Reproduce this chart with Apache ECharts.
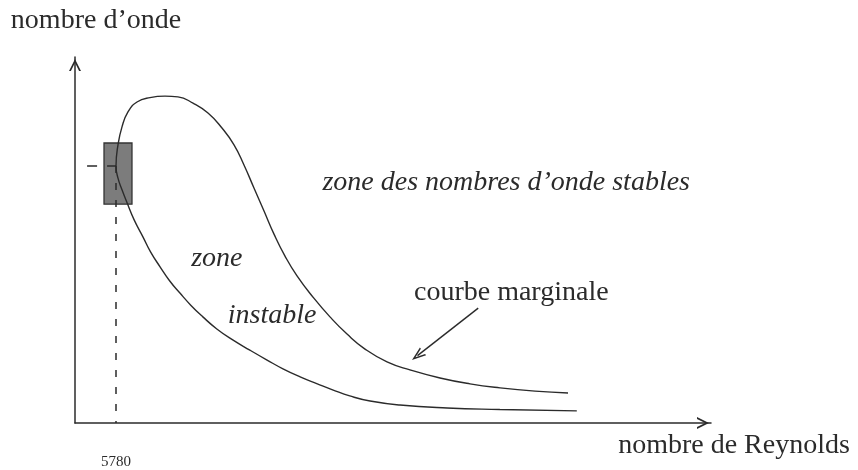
<!DOCTYPE html>
<html>
<head>
<meta charset="utf-8">
<script src="https://cdn.jsdelivr.net/npm/echarts@6/dist/echarts.min.js"></script>
<style>
  html, body { margin: 0; padding: 0; background: #ffffff; }
  #chart { width: 858px; height: 470px; }
</style>
</head>
<body>
<div id="chart"></div>
<script>
// Marginal stability curve (neutral curve) in the (Reynolds number, wavenumber) plane.
// Both axes use a schematic 0-100 scale; only the critical Reynolds number is labelled.

// Upper branch of the neutral curve, from the nose outwards
const upperBranchRe = [6.45, 6.76, 7.39, 8.33, 9.75, 11.79, 14.15, 16.19, 18.55, 20.91, 23.11, 25.0, 26.57,
  28.14, 29.72, 31.29, 33.02, 34.91, 37.42, 40.09, 42.77, 45.6, 49.06, 52.67, 57.39, 62.11, 66.82, 72.33, 77.52];
const upperBranchK = [70.2, 76.0, 80.9, 85.0, 87.7, 88.9, 89.3, 89.1, 87.4, 84.7, 80.6, 76.0, 70.5,
  64.2, 57.9, 51.6, 45.6, 40.2, 34.4, 29.0, 24.3, 20.2, 16.7, 14.5, 12.3, 10.7, 9.6, 8.7, 8.2];

// Lower branch of the neutral curve, from the nose outwards
const lowerBranchRe = [6.45, 6.76, 7.39, 8.2, 9.3, 10.7, 11.9, 13.4, 14.9, 16.5, 18.2, 20.1, 22.3, 24.8,
  27.5, 30.2, 32.7, 35.4, 38.1, 40.6, 43.2, 46.4, 51.1, 58.5, 66.8, 78.9];
const lowerBranchK = [70.2, 66.9, 63.7, 60.1, 55.5, 50.8, 46.7, 42.6, 38.8, 35.5, 32.2, 29.0, 25.7, 22.7,
  19.9, 17.2, 14.8, 12.6, 10.7, 9.0, 7.4, 6.0, 4.9, 4.1, 3.7, 3.3];

// Critical point (nose of the curve) and its Reynolds tick label
const criticalRe = 6.45;
const criticalK = 70.2;
const reynoldsTickLabels = ['5780'];

// Region names written inside the plane
const regionLabels = ['zone des nombres d\u2019onde stables', 'zone', 'instable', 'courbe marginale'];

// ---- build the curve path: upper branch (outer end -> nose) then lower branch (nose -> outer end)
const curve = [];
for (let i = upperBranchRe.length - 1; i >= 0; i--) curve.push([upperBranchRe[i], upperBranchK[i]]);
for (let i = 1; i < lowerBranchRe.length; i++) curve.push([lowerBranchRe[i], lowerBranchK[i]]);

const ink = '#2b2b2b';
const serif = '"Liberation Serif", "DejaVu Serif", serif';
// open arrowhead (chevron) pointing up; ECharts rotates it along the line
const chevron = 'path://M0,100 L50,0 L100,100 L84,100 L50,32 L16,100 Z';

const chart = echarts.init(document.getElementById('chart'), null, { renderer: 'canvas' });

chart.setOption({
  animation: false,
  backgroundColor: '#ffffff',
  grid: { left: 75, right: 147, top: 57, bottom: 47, containLabel: false },
  xAxis: {
    type: 'value', min: 0, max: 100,
    name: 'nombre de Reynolds',
    nameLocation: 'end',
    nameGap: 23,
    nameTextStyle: {
      fontFamily: serif, fontSize: 28, color: ink,
      align: 'center', verticalAlign: 'top', padding: [9, 0, 0, 0]
    },
    axisLine: {
      show: true,
      symbol: ['none', chevron],
      symbolSize: [12, 18],
      symbolOffset: [0, -8],
      lineStyle: { color: ink, width: 1.5 }
    },
    axisTick: { show: false },
    splitLine: { show: false },
    axisLabel: {
      show: true,
      customValues: [criticalRe],
      formatter: () => reynoldsTickLabels[0],
      margin: 32,
      fontFamily: serif, fontSize: 15, color: ink
    }
  },
  yAxis: {
    type: 'value', min: 0, max: 100,
    name: 'nombre d\u2019onde',
    nameLocation: 'end',
    nameGap: 22,
    nameTextStyle: {
      fontFamily: serif, fontSize: 28, color: ink,
      align: 'center', padding: [0, 0, 0, 42]
    },
    axisLine: {
      show: true,
      symbol: ['none', chevron],
      symbolSize: [12, 18],
      symbolOffset: [0, -8],
      lineStyle: { color: ink, width: 1.5 }
    },
    axisTick: { show: false },
    axisLabel: { show: false },
    splitLine: { show: false }
  },
  series: [
    {
      // guides to the critical point and the shaded neighbourhood around it
      type: 'line',
      data: [],
      silent: true,
      markArea: {
        silent: true,
        itemStyle: { color: '#7c7c7c', borderColor: '#333333', borderWidth: 1.3 },
        data: [[{ coord: [4.56, 76.5] }, { coord: [8.96, 59.8] }]]
      },
      markLine: {
        silent: true,
        symbol: ['none', 'none'],
        label: { show: false },
        data: [
          [{ coord: [1.9, criticalK], lineStyle: { type: [10, 10] } }, { coord: [criticalRe, criticalK] }],
          [{ coord: [criticalRe, criticalK], lineStyle: { type: [7, 10] } }, { coord: [criticalRe, 0] }]
        ],
        lineStyle: { color: ink, width: 1.5 }
      }
    },
    {
      // neutral curve
      name: 'courbe marginale',
      type: 'line',
      data: curve,
      smooth: 0.5,
      showSymbol: false,
      lineStyle: { color: ink, width: 1.4 },
      z: 3
    },
    {
      // region names and the pointer to the curve
      type: 'scatter',
      symbolSize: 0,
      silent: true,
      z: 4,
      itemStyle: { opacity: 1 },
      data: [
        { value: [67.8, 65.8], name: regionLabels[0], label: { fontStyle: 'italic' } },
        { value: [22.3, 44.8], name: regionLabels[1], label: { fontStyle: 'italic' } },
        { value: [31.0, 29.2], name: regionLabels[2], label: { fontStyle: 'italic' } },
        { value: [68.6, 35.5], name: regionLabels[3] }
      ],
      label: {
        show: true, position: 'inside', formatter: '{b}',
        fontFamily: serif, fontSize: 28, color: ink, opacity: 1, textBorderWidth: 0
      },
      markLine: {
        silent: true,
        symbol: ['none', chevron],
        symbolSize: [10, 14],
        label: { show: false },
        lineStyle: { color: ink, width: 1.4, type: 'solid' },
        data: [[{ coord: [63.4, 31.4] }, { coord: [53.85, 18.4] }]]
      }
    }
  ]
});
</script>
</body>
</html>
